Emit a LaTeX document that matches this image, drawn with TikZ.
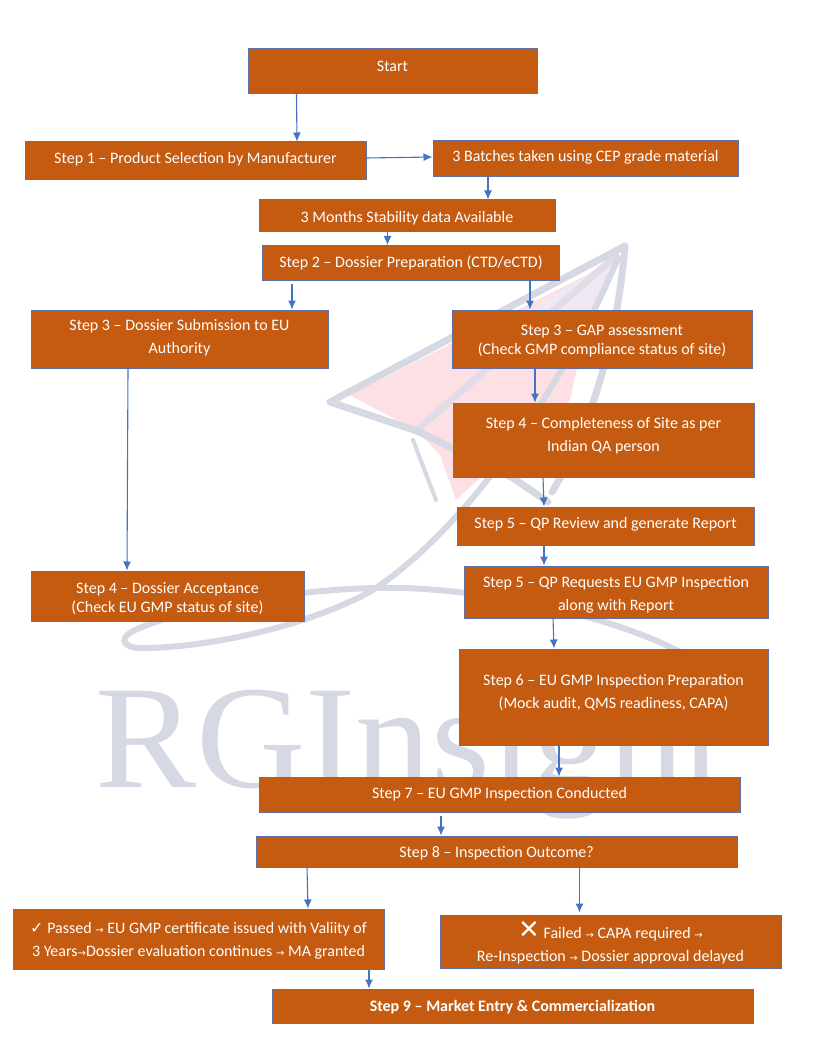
\documentclass[tikz,border=0pt]{standalone}
\usepackage{fontspec}
\usetikzlibrary{arrows.meta}
\setmainfont{Carlito}
\newfontfamily\symfont{DejaVu Sans}
\newfontfamily\markfont{Liberation Serif}
\definecolor{Boxorange}{RGB}{197,90,17}
\definecolor{Edgeblue}{RGB}{96,110,160}
\definecolor{Flowblue}{RGB}{68,114,196}
\definecolor{Markgrey}{RGB}{214,216,227}
\definecolor{Foldgrey}{RGB}{226,220,232}
\definecolor{Wingpink}{RGB}{252,224,228}
\definecolor{Winglilac}{RGB}{240,232,243}
\newcommand{\arr}{{\symfont\fontsize{10}{10}\selectfont →}}

\begin{document}
\begin{tikzpicture}[x=1pt,y=-1pt,
    stepbox/.style={draw=Edgeblue, fill=Boxorange, line width=1pt, text=white, align=center, inner sep=0pt,
      font=\fontsize{16}{23}\selectfont},
    flow/.style={Flowblue, line width=1.1pt, -{Latex[length=9pt,width=8pt]}},
    markline/.style={Markgrey, line width=7pt, line join=round, line cap=round}]
      \useasboundingbox (0,0) rectangle (816,1056);
      \fill[Wingpink] (350,395) -- (612,262) -- (576,372) -- (570,400) -- (530,470) -- (480,478) -- (456,500) -- (440,455) -- (417,431) -- cycle;
      \fill[Winglilac] (530,310) -- (615,258) -- (590,330) -- (580,310) -- cycle;
      \draw[Foldgrey, line width=7pt] (417,430) -- (618,254);
      \draw[markline] (625,246) -- (330,402) -- (417,431) -- (513,478) -- (548,502);
      \draw[markline] (625,246) .. controls (618,330) and (595,420) .. (552,492);
      \draw[markline, line width=4pt] (413,440) -- (436,500);
      \draw[Markgrey, line width=6pt, line cap=round] (618,258) .. controls (580,350) and (510,460) .. (453,520)
        .. controls (425,550) and (400,572) .. (373,590)
        .. controls (320,620) and (230,645) .. (150,648) .. controls (125,650) and (115,640) .. (135,630)
        .. controls (190,605) and (300,590) .. (373,588) .. controls (460,585) and (600,610) .. (680,652);
      \node[Markgrey, font=\fontsize{147}{147}\markfont, anchor=base west, inner sep=0pt, xscale=1.03, transform shape] (markname) at (95,787) {RGInsight};

      \node[stepbox, minimum width=289pt, minimum height=45pt, text depth=9pt] (start) at (392.5,71) {Start};
      \node[stepbox, minimum width=341pt, minimum height=38pt, text depth=7pt] (stepone) at (195.5,161) {Step 1 – Product Selection by Manufacturer};
      \node[stepbox, minimum width=305pt, minimum height=36pt, text depth=7pt] (batches) at (585.5,159) {3 Batches taken using CEP grade material};
      \node[stepbox, minimum width=296pt, minimum height=32pt, text height=15.5pt] (stability) at (407,216) {3 Months Stability data Available};
      \node[stepbox, minimum width=297pt, minimum height=35pt, text depth=3pt] (steptwo) at (411,263) {Step 2 – Dossier Preparation (CTD/eCTD)};
      \node[stepbox, minimum width=297pt, minimum height=58pt, text depth=6pt] (submit) at (179.5,339) {Step 3 – Dossier Submission to EU\\Authority};
      \node[stepbox, minimum width=300pt, minimum height=58pt, text height=34.5pt] (gap) at (602,339) {Step 3 – GAP assessment\\[-4pt](Check GMP compliance status of site)};
      \node[stepbox, minimum width=301pt, minimum height=74pt, text depth=12pt] (complete) at (603.5,440) {Step 4 – Completeness of Site as per\\Indian QA person};
      \node[stepbox, minimum width=297pt, minimum height=38pt, text depth=7pt] (review) at (605.5,526) {Step 5 – QP Review and generate Report};
      \node[stepbox, minimum width=304pt, minimum height=52pt, text height=40.5pt] (request) at (616,592) {Step 5 – QP Requests EU GMP Inspection\\along with Report};
      \node[stepbox, minimum width=273pt, minimum height=50pt, text height=35pt] (accept) at (167.5,596) {Step 4 – Dossier Acceptance\\[-4pt](Check EU GMP status of site)};
      \node[stepbox, minimum width=309pt, minimum height=96pt, text depth=12pt] (prepare) at (613.5,697) {Step 6 – EU GMP Inspection Preparation\\(Mock audit, QMS readiness, CAPA)};
      \node[stepbox, minimum width=481pt, minimum height=35pt, text depth=3pt] (conduct) at (499.5,794.5) {Step 7 – EU GMP Inspection Conducted};
      \node[stepbox, minimum width=481pt, minimum height=31pt, text height=15.5pt] (outcome) at (496.5,851.5) {Step 8 – Inspection Outcome?};
      \node[stepbox, minimum width=371pt, minimum height=60pt, text height=37.5pt] (passed) at (198.5,939) {{\symfont ✓} Passed \arr{} EU GMP certificate issued with Valiity of\\3 Years\arr{}Dossier evaluation continues \arr{} MA granted};
      \node[stepbox, minimum width=341pt, minimum height=53pt, text height=42pt] (failed) at (610.5,941.5) {{\symfont\fontsize{26}{26}\selectfont ✕} Failed \arr{} CAPA required \arr\\Re-Inspection \arr{} Dossier approval delayed};
      \node[stepbox, minimum width=481pt, minimum height=34pt, text height=13.5pt, font=\fontsize{16}{23}\selectfont\bfseries] (market) at (512.5,1006) {Step 9 – Market Entry \& Commercialization};

      \draw[flow] ([xshift=-96pt]start.south) -- ([xshift=101.5pt]stepone.north);
      \draw[flow] ([yshift=3pt]stepone.east) -- ([yshift=2pt]batches.west);
      \draw[flow] ([xshift=-97.5pt]batches.south) -- ([xshift=81pt]stability.north);
      \draw[flow] ([xshift=-19.5pt]stability.south) -- ([xshift=-23.5pt]steptwo.north);
      \draw[flow] ([xshift=-119pt,yshift=-3pt]steptwo.south) -- ([xshift=112.5pt]submit.north);
      \draw[flow] ([xshift=119pt]steptwo.south) -- ([xshift=-72pt]gap.north);
      \draw[flow] ([xshift=-51.5pt]submit.south) -- ([xshift=-40.5pt]accept.north);
      \draw[flow] ([xshift=-67pt]gap.south) -- ([xshift=-68.5pt]complete.north);
      \draw[flow] ([xshift=-60.5pt]complete.south) -- ([xshift=-61.5pt]review.north);
      \draw[flow] ([xshift=-61.5pt]review.south) -- ([xshift=-72pt]request.north);
      \draw[flow] ([xshift=-63pt]request.south) -- ([xshift=-59.5pt]prepare.north);
      \draw[flow] ([xshift=-54.5pt]prepare.south) -- ([xshift=59.5pt]conduct.north);
      \draw[flow] ([xshift=-58.5pt,yshift=-3pt]conduct.south) -- ([xshift=-55.5pt]outcome.north);
      \draw[flow] ([xshift=-189.5pt]outcome.south) -- ([xshift=109.5pt]passed.north);
      \draw[flow] ([xshift=83pt]outcome.south) -- ([xshift=-31pt,yshift=2pt]failed.north);
      \draw[flow] ([xshift=170.5pt]passed.south) -- ([xshift=-143.5pt]market.north);
\end{tikzpicture}
\end{document}
